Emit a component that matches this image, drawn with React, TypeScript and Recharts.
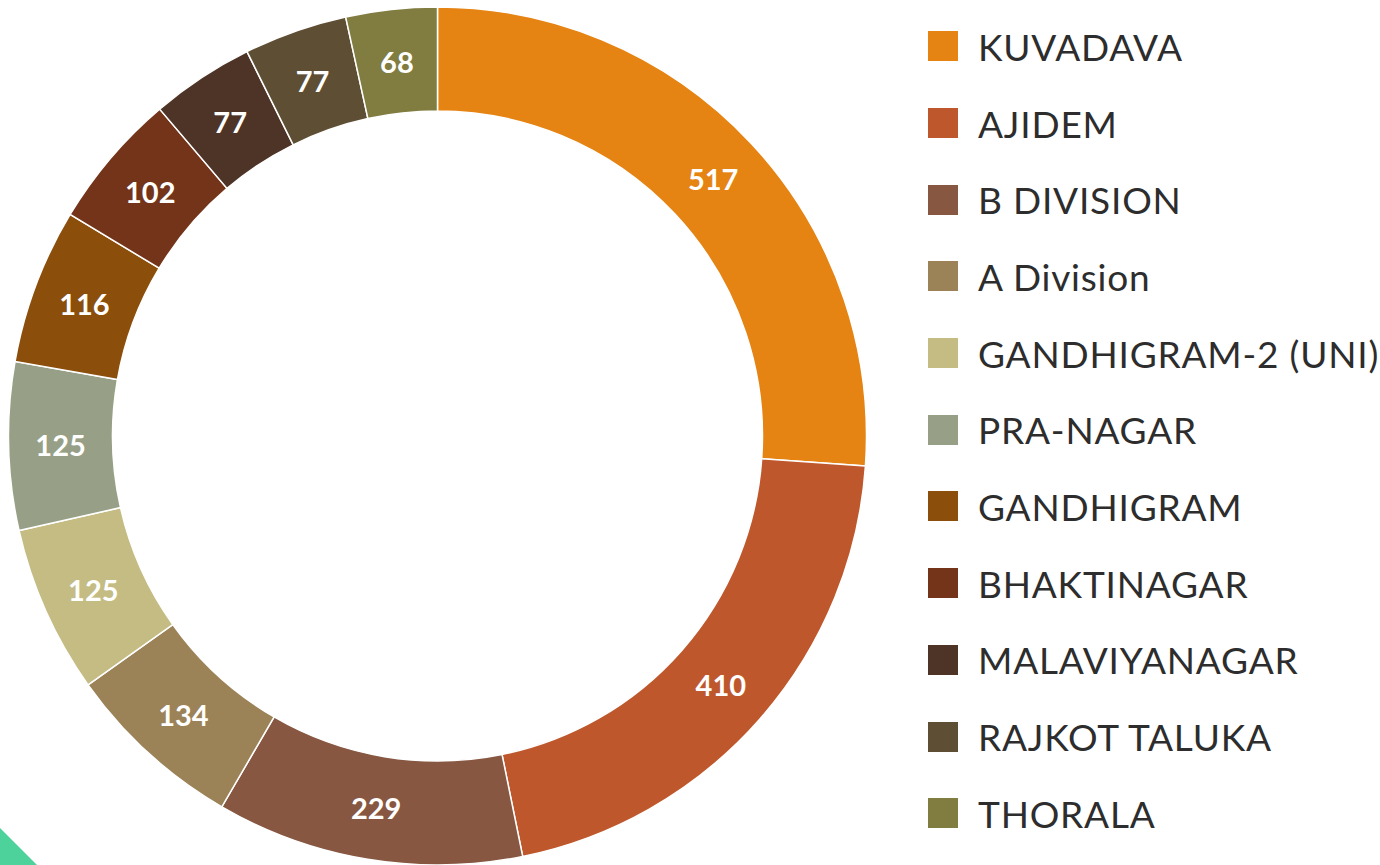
import { PieChart, Pie, Cell, Legend } from "recharts";

const stations = [
  "KUVADAVA",
  "AJIDEM",
  "B DIVISION",
  "A Division",
  "GANDHIGRAM-2 (UNI)",
  "PRA-NAGAR",
  "GANDHIGRAM",
  "BHAKTINAGAR",
  "MALAVIYANAGAR",
  "RAJKOT TALUKA",
  "THORALA",
];
const counts = [517, 410, 229, 134, 125, 125, 116, 102, 77, 77, 68];
const colors = [
  "#E58313",
  "#BE582C",
  "#875741",
  "#9C8257",
  "#C4BC83",
  "#97A086",
  "#8B4E0B",
  "#73341A",
  "#4E3426",
  "#5E4E33",
  "#817C40",
];

const data = stations.map((name, i) => ({ name, value: counts[i] }));

const RADIAN = Math.PI / 180;

function SliceLabel(props: any) {
  const { cx, cy, midAngle, innerRadius, outerRadius, value } = props;
  const r = (innerRadius + outerRadius) / 2;
  const x = cx + r * Math.cos(-midAngle * RADIAN);
  const y = cy + r * Math.sin(-midAngle * RADIAN);
  return (
    <text
      x={x}
      y={y}
      fill="#fff"
      textAnchor="middle"
      dominantBaseline="central"
      style={{ fontFamily: "Lato", fontWeight: 700, fontSize: 29 }}
    >
      {value}
    </text>
  );
}

function LegendList() {
  return (
    <div>
      {stations.map((s, i) => (
        <div
          key={s}
          style={{ display: "flex", alignItems: "center", height: 76.7 }}
        >
          <span
            style={{
              width: 30,
              height: 30,
              background: colors[i],
              display: "inline-block",
              marginRight: 20,
              flexShrink: 0,
            }}
          />
          <span
            style={{
              fontFamily: "Lato",
              fontSize: 37,
              letterSpacing: 0.8,
              color: "#2d2d2d",
              whiteSpace: "nowrap",
            }}
          >
            {s}
          </span>
        </div>
      ))}
    </div>
  );
}

export default function App() {
  return (
    <div style={{ position: "fixed", left: 0, top: 0, width: 1380, height: 865, background: "#fff", overflow: "hidden" }}>
      {/* green corner decoration */}
      <div
        style={{
          position: "absolute",
          left: 0,
          top: 828,
          width: 37,
          height: 37,
          background: "#4CD29A",
          clipPath: "polygon(0 0, 100% 100%, 0 100%)",
        }}
      />
      <PieChart width={1380} height={865} margin={{ top: 0, right: 0, bottom: 0, left: 0 }}>
        <Pie
          data={data}
          dataKey="value"
          nameKey="name"
          cx={437.5}
          cy={436}
          innerRadius={325}
          outerRadius={429}
          startAngle={90}
          endAngle={-270}
          stroke="#fff"
          strokeWidth={1.5}
          label={SliceLabel}
          labelLine={false}
          isAnimationActive={false}
        >
          {data.map((d, i) => (
            <Cell key={d.name} fill={colors[i]} />
          ))}
        </Pie>
        <Legend
          layout="vertical"
          verticalAlign="top"
          align="right"
          content={() => <LegendList />}
          wrapperStyle={{ left: 928, top: 8, width: 452 }}
        />
      </PieChart>
    </div>
  );
}
